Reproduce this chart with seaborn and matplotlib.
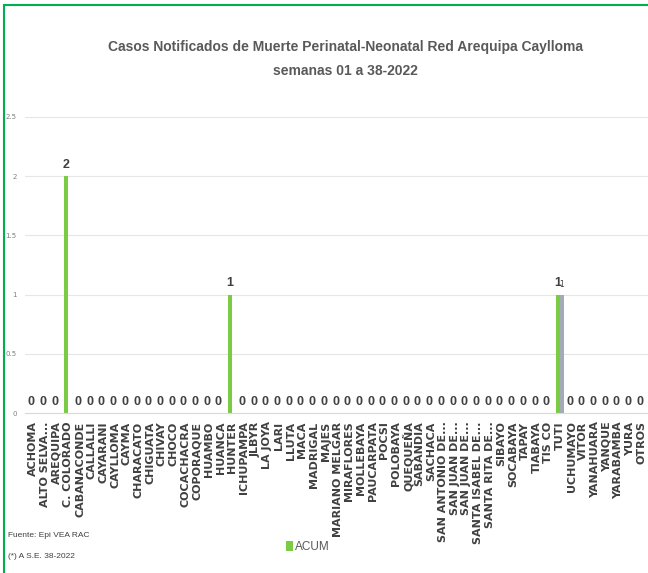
import numpy as np
import pandas as pd
import matplotlib
matplotlib.use("Agg")
import matplotlib.pyplot as plt
import seaborn as sns

# Distritos / establecimientos
distritos = ["ACHOMA", "ALTO SELVA...", "AREQUIPA", "C. COLORADO", "CABANACONDE",
             "CALLALLI", "CAYARANI", "CAYLLOMA", "CAYMA", "CHARACATO", "CHIGUATA",
             "CHIVAY", "CHOCO", "COCACHACRA", "COPORAQUE", "HUAMBO", "HUANCA",
             "HUNTER", "ICHUPAMPA", "JLBYR", "LA JOYA", "LARI", "LLUTA", "MACA",
             "MADRIGAL", "MAJES", "MARIANO MELGAR", "MIRAFLORES", "MOLLEBAYA",
             "PAUCARPATA", "POCSI", "POLOBAYA", "QUEQUEÑA", "SABANDIA", "SACHACA",
             "SAN ANTONIO DE...", "SAN JUAN DE...", "SAN JUAN DE... ", "SANTA ISABEL DE...",
             "SANTA RITA DE...", "SIBAYO", "SOCABAYA", "TAPAY", "TIABAYA", "TIS CO",
             "TUTI", "UCHUMAYO", "VITOR", "YANAHUARA", "YANQUE", "YARABAMBA",
             "YURA", "OTROS"]

# Casos acumulados
acum = [0, 0, 0, 2, 0, 0, 0, 0, 0, 0, 0, 0, 0, 0, 0, 0, 0, 1, 0, 0, 0, 0, 0,
        0, 0, 0, 0, 0, 0, 0, 0, 0, 0, 0, 0, 0, 0, 0, 0, 0, 0, 0, 0, 0, 0, 1,
        0, 0, 0, 0, 0, 0, 0]
# segunda serie (gris, sin leyenda)
serie_gris = [0] * 45 + [1] + [0] * 7

df = pd.DataFrame({
    "distrito": distritos * 2,
    "casos": acum + serie_gris,
    "serie": ["ACUM"] * len(distritos) + ["S2"] * len(distritos),
})

narrow = dict(family="Liberation Sans")

fig = plt.figure(figsize=(6.48, 5.73), dpi=100)
ax = fig.add_axes([0.0386, 0.279, 0.962, 0.517])

sns.barplot(data=df, x="distrito", y="casos", hue="serie",
            palette={"ACUM": "#7CCB45", "S2": "#A2ABB6"}, saturation=1,
            width=0.7, dodge=True, ax=ax, legend=False)

ax.set_ylim(0, 2.5)
ax.set_xlim(-0.7, len(distritos) - 0.45)
ax.set_yticks([0, 0.5, 1, 1.5, 2, 2.5])
ax.set_yticklabels(["0", "0.5", "1", "1.5", "2", "2.5"], fontsize=5, color="#7f7f7f")
ax.yaxis.grid(True, color="#e6e6e6", linewidth=0.8)
ax.set_axisbelow(True)
for s in ["top", "right", "left"]:
    ax.spines[s].set_visible(False)
ax.spines["bottom"].set_color("#d9d9d9")
ax.tick_params(axis="both", length=0, pad=6)
ax.set_xlabel("")
ax.set_ylabel("")
ax.set_xticks(range(len(distritos)))
ax.set_xticklabels([d.strip() for d in distritos], rotation=90, fontsize=8,
                   fontweight="bold", color="#404040")

# etiquetas de datos
ax.bar_label(ax.containers[0], fmt="%g", padding=4, fontsize=9,
             fontweight="bold", color="#404040", **narrow)
gris_lbl = [("%g" % v) if v else "" for v in serie_gris]
ax.bar_label(ax.containers[1], labels=gris_lbl, padding=4, fontsize=5.5,
             color="#404040")

fig.text(0.533, 0.918, "Casos Notificados de Muerte Perinatal-Neonatal Red Arequipa Caylloma",
         ha="center", va="center", fontsize=10, fontweight="bold", color="#595959",
         **narrow)
fig.text(0.533, 0.876, "semanas 01 a 38-2022", ha="center", va="center",
         fontsize=10, fontweight="bold", color="#595959", **narrow)

fig.text(0.012, 0.062, "Fuente: Epi VEA RAC", fontsize=6, color="#404040", **narrow)
fig.text(0.012, 0.027, "(*) A S.E. 38-2022", fontsize=6, color="#404040", **narrow)

# leyenda solo para ACUM
h = ax.containers[0].patches[0]
leg = fig.legend([h], ["ACUM"], loc="center", bbox_to_anchor=(0.475, 0.045),
                 frameon=False, handlelength=0.6, handleheight=0.9,
                 handletextpad=0.2, prop={"family": "Liberation Sans", "size": 8.5})
for t in leg.get_texts():
    t.set_color("#595959")

# borde verde
fig.add_artist(plt.Rectangle((0.006, -0.05), 1.1, 1.041, transform=fig.transFigure,
                             fill=False, edgecolor="#00B050", linewidth=1.5))

fig.savefig("out.png", dpi=100)
